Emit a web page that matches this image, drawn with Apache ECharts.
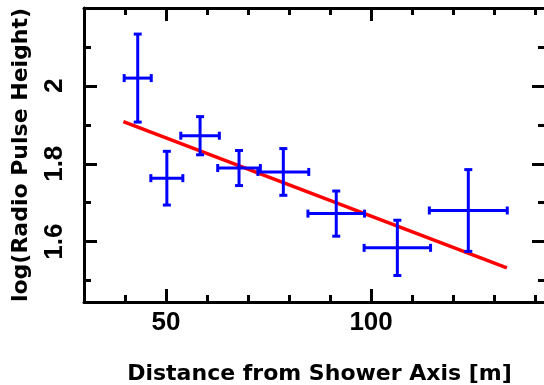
<!DOCTYPE html>
<html>
<head>
<meta charset="utf-8">
<script src="https://cdn.jsdelivr.net/npm/echarts@6/dist/echarts.min.js"></script>
<style>
  html, body { margin: 0; padding: 0; background: #fff; }
  #main { width: 544px; height: 385px; }
</style>
</head>
<body>
<div id="main"></div>
<script>
// measured points: distance [m] with half-width, log pulse height with error
const distance = [43.1, 50.2, 58.3, 67.8, 78.6, 91.5, 106.4, 123.7];
const distanceErr = [3.3, 3.9, 4.7, 5.2, 6.2, 6.9, 8.1, 9.5];
const logHeight = [2.02, 1.763, 1.872, 1.789, 1.779, 1.672, 1.584, 1.68];
const logHeightErr = [0.113, 0.069, 0.049, 0.045, 0.06, 0.058, 0.071, 0.105];

// fitted line end points
const fitX = [39.6, 133.1];
const fitY = [1.9085, 1.5326];

const xMajor = [50, 100];
const xMinor = [40, 50, 60, 70, 80, 90, 100, 110, 120, 130, 140];
const yMajor = [1.6, 1.8, 2.0];
const yMinor = [1.5, 1.6, 1.7, 1.8, 1.9, 2.0, 2.1];

const chart = echarts.init(document.getElementById("main"));

const black = "#000";
const labelFont = { color: black, fontFamily: "Liberation Sans", fontWeight: "bold", fontSize: 26 };
const nameFont = { color: black, fontFamily: "DejaVu Sans", fontWeight: "bold", fontSize: 22 };

function xAxisDef(pos, major, withLabels) {
  return {
    type: "value",
    position: pos,
    min: 30,
    max: 142.4,
    splitLine: { show: false },
    axisLine: { show: major, onZero: false, lineStyle: { color: black, width: 3 } },
    axisTick: {
      inside: true,
      length: major ? 13 : 7,
      customValues: major ? xMajor : xMinor,
      lineStyle: { color: black, width: 3 },
    },
    axisLabel: withLabels
      ? Object.assign({ customValues: xMajor, margin: 8 }, labelFont)
      : { show: false },
  };
}

function yAxisDef(pos, major, withLabels) {
  return {
    type: "value",
    position: pos,
    min: 1.445,
    max: 2.2,
    splitLine: { show: false },
    axisLine: { show: major, onZero: false, lineStyle: { color: black, width: 3 } },
    axisTick: {
      inside: true,
      length: major ? 13 : 7,
      customValues: major ? yMajor : yMinor,
      lineStyle: { color: black, width: 3 },
    },
    axisLabel: withLabels
      ? Object.assign({ customValues: yMajor, rotate: 90, margin: 16 }, labelFont)
      : { show: false },
  };
}

const xMain = xAxisDef("bottom", true, true);
xMain.name = "Distance from Shower Axis [m]";
xMain.nameLocation = "middle";
xMain.nameGap = 61;
xMain.nameTextStyle = Object.assign({ padding: [0, 0, 0, 10] }, nameFont);

const yMain = yAxisDef("left", true, true);
yMain.name = "log(Radio Pulse Height)";
yMain.nameLocation = "middle";
yMain.nameGap = 52;
yMain.nameTextStyle = nameFont;

const option = {
  animation: false,
  backgroundColor: "#fff",
  grid: { left: 84, top: 8, width: 461, height: 294, outerBoundsMode: "none" },
  xAxis: [
    xMain,
    xAxisDef("bottom", false, false),
    xAxisDef("top", true, false),
    xAxisDef("top", false, false),
  ],
  yAxis: [
    yMain,
    yAxisDef("left", false, false),
    yAxisDef("right", true, false),
    yAxisDef("right", false, false),
  ],
  series: [
    {
      type: "line",
      xAxisIndex: 0,
      yAxisIndex: 0,
      data: fitX.map((x, i) => [x, fitY[i]]),
      symbol: "none",
      lineStyle: { color: "#ff0000", width: 3.5 },
      z: 3,
    },
    {
      type: "custom",
      xAxisIndex: 0,
      yAxisIndex: 0,
      data: distance.map((x, i) => [x, logHeight[i], distanceErr[i], logHeightErr[i]]),
      renderItem: function (params, api) {
        const x = api.value(0), y = api.value(1);
        const dx = api.value(2), dy = api.value(3);
        const left = api.coord([x - dx, y]);
        const right = api.coord([x + dx, y]);
        const top = api.coord([x, y + dy]);
        const bottom = api.coord([x, y - dy]);
        const cap = 4;
        const style = { stroke: "#0000ff", lineWidth: 3 };
        const seg = (x1, y1, x2, y2) => ({
          type: "line",
          shape: { x1: x1, y1: y1, x2: x2, y2: y2 },
          style: style,
        });
        return {
          type: "group",
          children: [
            seg(left[0], left[1], right[0], right[1]),
            seg(top[0], top[1], bottom[0], bottom[1]),
            seg(left[0], left[1] - cap, left[0], left[1] + cap),
            seg(right[0], right[1] - cap, right[0], right[1] + cap),
            seg(top[0] - cap, top[1], top[0] + cap, top[1]),
            seg(bottom[0] - cap, bottom[1], bottom[0] + cap, bottom[1]),
          ],
        };
      },
      z: 4,
    },
  ],
};

chart.setOption(option);
</script>
</body>
</html>
